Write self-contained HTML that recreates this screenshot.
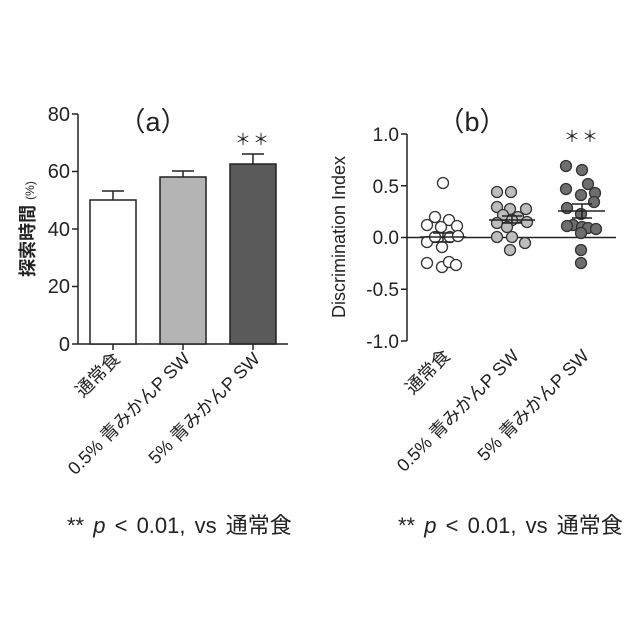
<!DOCTYPE html>
<html><head><meta charset="utf-8"><style>
html,body{margin:0;padding:0;background:#fff}
svg{display:block}
text{font-family:"Liberation Sans","Noto Sans CJK JP",sans-serif;fill:#222}
</style></head><body>
<svg width="640" height="640" viewBox="0 0 640 640" xmlns="http://www.w3.org/2000/svg">
<rect width="640" height="640" fill="#fff"/>
<!-- Panel a -->
<g stroke="#222" stroke-width="1.5" fill="none">
<line x1="78" y1="114" x2="78" y2="344"/>
<line x1="78" y1="344" x2="288" y2="344"/>
<line x1="72" y1="114" x2="78" y2="114"/>
<line x1="72" y1="171.5" x2="78" y2="171.5"/>
<line x1="72" y1="229" x2="78" y2="229"/>
<line x1="72" y1="286.5" x2="78" y2="286.5"/>
<line x1="72" y1="344" x2="78" y2="344"/>
<line x1="113" y1="344" x2="113" y2="350"/>
<line x1="183" y1="344" x2="183" y2="350"/>
<line x1="253" y1="344" x2="253" y2="350"/>
</g>
<rect x="90" y="200" width="46" height="144" fill="#fff" stroke="#222" stroke-width="1.5"/>
<rect x="160" y="177" width="46" height="167" fill="#b4b4b4" stroke="#222" stroke-width="1.5"/>
<rect x="230" y="164" width="46" height="180" fill="#5a5a5a" stroke="#222" stroke-width="1.5"/>
<g stroke="#222" stroke-width="1.5">
<line x1="113" y1="200" x2="113" y2="191"/><line x1="102" y1="191" x2="124" y2="191"/>
<line x1="183" y1="177" x2="183" y2="171"/><line x1="172" y1="171" x2="194" y2="171"/>
<line x1="253" y1="164" x2="253" y2="154"/><line x1="242" y1="154" x2="264" y2="154"/>
</g>
<g font-size="20" text-anchor="end">
<text x="70" y="121">80</text><text x="70" y="178">60</text><text x="70" y="236">40</text><text x="70" y="293">20</text><text x="70" y="351">0</text>
</g>
<text x="153" y="131" font-size="27" text-anchor="middle" font-family="'Noto Sans CJK JP',sans-serif">（a）</text>
<text x="253" y="145" font-size="16" text-anchor="middle" letter-spacing="2" fill="#444">＊＊</text>
<text transform="translate(34,229) rotate(-90)" font-size="18" text-anchor="middle" font-weight="bold">探索時間 <tspan font-size="12" font-weight="normal">(%)</tspan></text>
<g font-size="18" text-anchor="end">
<text transform="translate(121,360) rotate(-45)">通常食</text>
<text transform="translate(191,360) rotate(-45)">0.5% 青みかんP SW</text>
<text transform="translate(261,360) rotate(-45)">5% 青みかんP SW</text>
</g>
<!-- Panel b -->
<g stroke="#222" stroke-width="1.5" fill="none">
<line x1="407" y1="134" x2="407" y2="341"/>
<line x1="407" y1="237.5" x2="616" y2="237.5"/>
<line x1="401" y1="134" x2="407" y2="134"/>
<line x1="401" y1="185.75" x2="407" y2="185.75"/>
<line x1="401" y1="237.5" x2="407" y2="237.5"/>
<line x1="401" y1="289.25" x2="407" y2="289.25"/>
<line x1="401" y1="341" x2="407" y2="341"/>
</g>
<g font-size="19" text-anchor="end">
<text x="399" y="141">1.0</text><text x="399" y="193">0.5</text><text x="399" y="244">0.0</text><text x="399" y="296">-0.5</text><text x="399" y="348">-1.0</text>
</g>
<text x="472" y="131" font-size="27" text-anchor="middle" font-family="'Noto Sans CJK JP',sans-serif">（b）</text>
<text x="582" y="142" font-size="16" text-anchor="middle" letter-spacing="2" fill="#444">＊＊</text>
<text transform="translate(345,237) rotate(-90)" font-size="18" text-anchor="middle">Discrimination Index</text>
<g stroke="#333" stroke-width="1.3" fill="#fff">
<circle cx="443" cy="183" r="5.5"/><circle cx="435" cy="217" r="5.5"/><circle cx="427" cy="225" r="5.5"/><circle cx="449" cy="220" r="5.5"/><circle cx="457" cy="226" r="5.5"/><circle cx="441" cy="227" r="5.5"/><circle cx="427" cy="242" r="5.5"/><circle cx="435" cy="237" r="5.5"/><circle cx="442" cy="247" r="5.5"/><circle cx="450" cy="237" r="5.5"/><circle cx="458" cy="236" r="5.5"/><circle cx="427" cy="263" r="5.5"/><circle cx="442" cy="267" r="5.5"/><circle cx="449" cy="262" r="5.5"/><circle cx="456" cy="265" r="5.5"/>
</g>
<g stroke="#333" stroke-width="1.3" fill="#bdbdbd">
<circle cx="497" cy="192" r="5.5"/><circle cx="511" cy="192" r="5.5"/><circle cx="497" cy="207" r="5.5"/><circle cx="510" cy="209" r="5.5"/><circle cx="526" cy="209" r="5.5"/><circle cx="503" cy="215" r="5.5"/><circle cx="518" cy="217" r="5.5"/><circle cx="497" cy="223" r="5.5"/><circle cx="512" cy="220" r="5.5"/><circle cx="527" cy="222" r="5.5"/><circle cx="507" cy="227" r="5.5"/><circle cx="497" cy="237" r="5.5"/><circle cx="512" cy="237" r="5.5"/><circle cx="525" cy="243" r="5.5"/><circle cx="510" cy="250" r="5.5"/>
</g>
<g stroke="#333" stroke-width="1.3" fill="#6e6e6e">
<circle cx="566" cy="166" r="5.5"/><circle cx="582" cy="170" r="5.5"/><circle cx="588" cy="184" r="5.5"/><circle cx="566" cy="189" r="5.5"/><circle cx="581" cy="195" r="5.5"/><circle cx="595" cy="193" r="5.5"/><circle cx="594" cy="202" r="5.5"/><circle cx="567" cy="208" r="5.5"/><circle cx="581" cy="214" r="5.5"/><circle cx="573" cy="225" r="5.5"/><circle cx="582" cy="227" r="5.5"/><circle cx="588" cy="228" r="5.5"/><circle cx="596" cy="229" r="5.5"/><circle cx="567" cy="226" r="5.5"/><circle cx="581" cy="233" r="5.5"/><circle cx="581" cy="250" r="5.5"/><circle cx="581" cy="263" r="5.5"/>
</g>
<g stroke="#222" stroke-width="1.5">
<line x1="420" y1="237" x2="466" y2="237"/><line x1="443" y1="233" x2="443" y2="242"/><line x1="433" y1="233" x2="453" y2="233"/><line x1="433" y1="242" x2="453" y2="242"/>
<line x1="489" y1="220" x2="535" y2="220"/><line x1="512" y1="216" x2="512" y2="223"/><line x1="502" y1="216" x2="522" y2="216"/><line x1="502" y1="223" x2="522" y2="223"/>
<line x1="558" y1="211" x2="605" y2="211"/><line x1="582" y1="204" x2="582" y2="218"/><line x1="572" y1="204" x2="592" y2="204"/><line x1="572" y1="218" x2="592" y2="218"/>
</g>
<g font-size="18" text-anchor="end">
<text transform="translate(451,357) rotate(-45)">通常食</text>
<text transform="translate(520,357) rotate(-45)">0.5% 青みかんP SW</text>
<text transform="translate(590,357) rotate(-45)">5% 青みかんP SW</text>
</g>
<!-- footnotes -->
<text x="67" y="533" font-size="22" word-spacing="3">** <tspan font-style="italic">p</tspan> &lt; 0.01, vs 通常食</text>
<text x="398" y="533" font-size="22" word-spacing="3">** <tspan font-style="italic">p</tspan> &lt; 0.01, vs 通常食</text>
</svg>
</body></html>
